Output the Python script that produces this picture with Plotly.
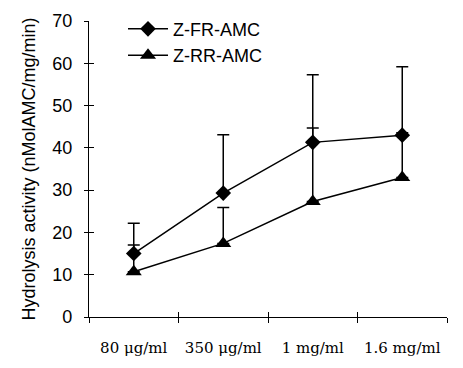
import plotly.graph_objects as go

categories = ["80 μg/ml", "350 μg/ml", "1 mg/ml", "1.6 mg/ml"]
fr_values = [15.0, 29.3, 41.3, 43.0]
fr_err_plus = [7.2, 13.8, 16.0, 16.2]
rr_values = [10.7, 17.4, 27.3, 33.0]
rr_err_plus = [6.3, 8.5, 17.4, 10.6]
y_ticks = [0, 10, 20, 30, 40, 50, 60, 70]

fig = go.Figure()
fig.add_trace(go.Scatter(
    x=categories, y=fr_values, name="Z-FR-AMC", mode="lines+markers",
    line=dict(color="black", width=1.5),
    marker=dict(symbol="diamond", size=12, color="black"),
    error_y=dict(type="data", symmetric=False, array=fr_err_plus,
                 arrayminus=[0]*4, color="black", thickness=1.5, width=6),
))
fig.add_trace(go.Scatter(
    x=categories, y=rr_values, name="Z-RR-AMC", mode="lines+markers",
    line=dict(color="black", width=1.5),
    marker=dict(symbol="triangle-up", size=14, color="black"),
    error_y=dict(type="data", symmetric=False, array=rr_err_plus,
                 arrayminus=[0]*4, color="black", thickness=1.5, width=6),
))
# invisible trace to drive overlay axes (crossing ticks)
fig.add_trace(go.Scatter(x=categories, y=fr_values, xaxis="x2", yaxis="y2",
                         mode="markers", marker=dict(opacity=0), showlegend=False,
                         hoverinfo="skip"))

axis_font = dict(family="Liberation Sans, Arial", size=18, color="black")
# page body has an 8px margin: figure is sized/placed to compensate
fig.update_layout(
    width=455, height=360,
    margin=dict(l=81, r=16, t=13, b=51, autoexpand=False),
    paper_bgcolor="white", plot_bgcolor="white",
    showlegend=True,
    legend=dict(x=0.095, y=1.035, xanchor="left", yanchor="top",
                font=dict(family="Liberation Sans, Arial", size=18, color="black"),
                bgcolor="rgba(0,0,0,0)", tracegroupgap=0, itemwidth=40),
    xaxis=dict(type="category", categoryarray=categories, tickson="boundaries",
               ticks="outside", ticklen=5, tickwidth=1.2, tickcolor="black",
               showline=True, linecolor="black", linewidth=1.2, showgrid=False,
               tickfont=dict(family="DejaVu Serif, serif", size=15, color="black"),
               tickangle=0,
               ticklabelstandoff=17, range=[-0.5, 3.5], automargin=False),
    yaxis=dict(range=[0, 70], tickvals=y_ticks, ticks="outside", ticklen=4,
               tickwidth=1.2, tickcolor="black", showline=True, linecolor="black",
               linewidth=1.2, showgrid=False, zeroline=False, tickfont=axis_font,
               ticklabelstandoff=8, automargin=False,
               title=dict(text="Hydrolysis activity (nMolAMC/mg/min)",
                          font=axis_font, standoff=11)),
    xaxis2=dict(type="category", categoryarray=categories, overlaying="x",
                tickson="boundaries", ticks="inside", ticklen=5, tickwidth=1.2,
                tickcolor="black", showticklabels=False, showgrid=False,
                range=[-0.5, 3.5]),
    yaxis2=dict(range=[0, 70], tickvals=y_ticks, overlaying="y", ticks="inside",
                ticklen=5, tickwidth=1.2, tickcolor="black", showticklabels=False,
                showgrid=False, zeroline=False),
)
fig.write_html("out.html")
